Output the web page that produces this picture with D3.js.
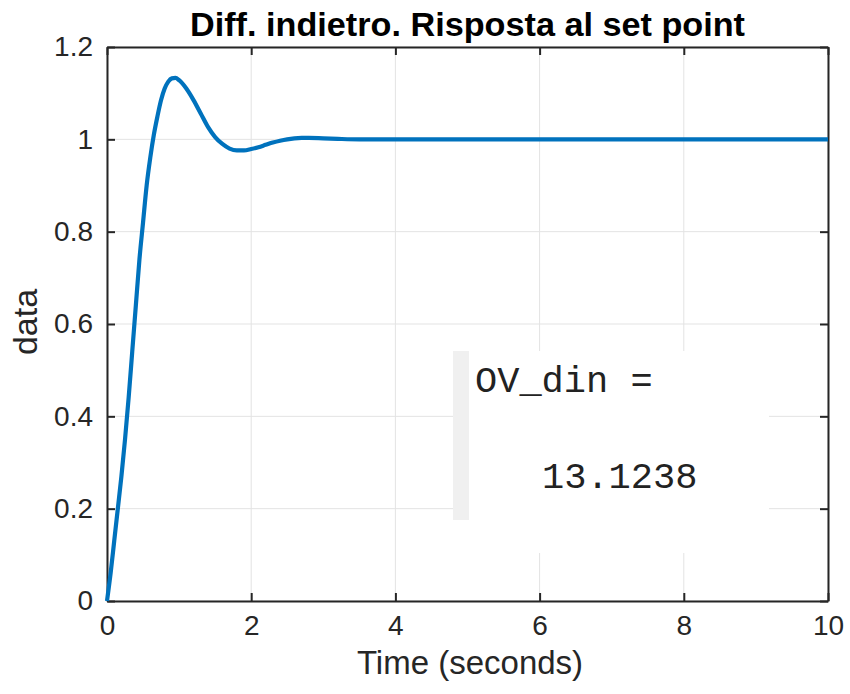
<!DOCTYPE html>
<html><head><meta charset="utf-8">
<script src="https://cdn.jsdelivr.net/npm/d3@7"></script>
<style>body{margin:0;background:#fff;}svg{display:block;}</style>
</head><body>
<script>
const titleText = "Diff. indietro. Risposta al set point";
const xLabel = "Time (seconds)";
const yLabel = "data";
const xTicks = [0, 2, 4, 6, 8, 10];
const yTicks = [0, 0.2, 0.4, 0.6, 0.8, 1, 1.2];
const timeS = [0,0.05,0.1,0.15,0.2,0.25,0.3,0.35,0.4,0.45,0.5,0.55,0.6,0.65,0.7,0.75,0.8,0.85,0.9,0.95,
  1.0,1.1,1.2,1.3,1.4,1.5,1.6,1.7,1.8,1.9,2.0,2.1,2.2,2.3,2.4,2.5,2.6,2.7,2.8,3.0,3.2,3.5,4,5,6,7,8,9,10];
const response = [0,0.06,0.13,0.20,0.27,0.35,0.44,0.54,0.64,0.74,0.82,0.90,0.96,1.01,1.05,1.085,1.11,1.125,1.132,1.133,
  1.128,1.110,1.085,1.056,1.027,1.005,0.990,0.980,0.976,0.976,0.979,0.983,0.988,0.993,0.997,1.000,1.002,1.003,1.003,1.002,1.001,1.000,1.000,1.000,1.000,1.000,1.000,1.000,1.000];
const noteLines = ["OV_din =", "13.1238"];

const W = 850, H = 694;
const svg = d3.select("body").append("svg").attr("width", W).attr("height", H);
const x = d3.scaleLinear().domain([0, 10]).range([107, 828]);
const y = d3.scaleLinear().domain([0, 1.2]).range([601, 47]);
const axisCol = "#262626";
const tickFont = "'Liberation Sans', Arial, Helvetica, sans-serif";

// grid
const g = svg.append("g");
g.selectAll(".gx").data(xTicks).enter().append("line")
  .attr("x1", d => x(d)).attr("x2", d => x(d)).attr("y1", y(0)).attr("y2", y(1.2))
  .attr("stroke", "#e3e3e3").attr("stroke-width", 1);
g.selectAll(".gy").data(yTicks).enter().append("line")
  .attr("y1", d => y(d)).attr("y2", d => y(d)).attr("x1", x(0)).attr("x2", x(10))
  .attr("stroke", "#e3e3e3").attr("stroke-width", 1);

// pasted note box
svg.append("rect").attr("x", 453).attr("y", 351).attr("width", 316).attr("height", 202).attr("fill", "#fff");
svg.append("rect").attr("x", 453).attr("y", 351).attr("width", 16).attr("height", 169).attr("fill", "#f0f0f0");
svg.append("text").attr("x", 475).attr("y", 392).text(noteLines[0])
  .attr("font-family", "'Courier New', 'Liberation Mono', monospace").attr("font-size", 37).attr("fill", "#222");
svg.append("text").attr("x", 542).attr("y", 488).text(noteLines[1])
  .attr("font-family", "'Courier New', 'Liberation Mono', monospace").attr("font-size", 37).attr("fill", "#222");

// axes
const tl = 8;
const axB = d3.axisBottom(x).tickValues(xTicks).tickSizeInner(-tl).tickSizeOuter(0).tickPadding(14).tickFormat(d3.format("d"));
const axT = d3.axisTop(x).tickValues(xTicks).tickSizeInner(-tl).tickSizeOuter(0).tickFormat("");
const axL = d3.axisLeft(y).tickValues(yTicks).tickSizeInner(-tl).tickSizeOuter(0).tickPadding(14).tickFormat(d => d3.format("~g")(d));
const axR = d3.axisRight(y).tickValues(yTicks).tickSizeInner(-tl).tickSizeOuter(0).tickFormat("");
function style(sel){
  sel.select(".domain").attr("stroke", axisCol).attr("stroke-width", 2);
  sel.selectAll(".tick line").attr("stroke", axisCol).attr("stroke-width", 2);
  sel.selectAll("text").attr("fill", axisCol).attr("font-size", 28).attr("font-family", tickFont);
}
svg.append("g").attr("transform", `translate(0,${y(0)})`).call(axB).call(style);
svg.append("g").attr("transform", `translate(0,${y(1.2)})`).call(axT).call(style);
svg.append("g").attr("transform", `translate(${x(0)},0)`).call(axL).call(style);
svg.append("g").attr("transform", `translate(${x(10)},0)`).call(axR).call(style);

// line
const line = d3.line().x((d, i) => x(timeS[i])).y(d => y(d)).curve(d3.curveMonotoneX);
svg.append("path").datum(response).attr("d", line).attr("fill", "none")
  .attr("stroke", "#0072BD").attr("stroke-width", 4.2).attr("stroke-linejoin", "round");

// labels
svg.append("text").attr("x", 467.5).attr("y", 36).attr("text-anchor", "middle")
  .attr("font-family", tickFont).attr("font-weight", "bold").attr("font-size", 34)
  .attr("textLength", 555).attr("lengthAdjust", "spacingAndGlyphs").attr("fill", "#000").text(titleText);
svg.append("text").attr("x", 470).attr("y", 674).attr("text-anchor", "middle")
  .attr("font-family", tickFont).attr("font-size", 33).attr("fill", axisCol).text(xLabel);
svg.append("text").attr("transform", "translate(37,322) rotate(-90)").attr("text-anchor", "middle")
  .attr("font-family", tickFont).attr("font-size", 34).attr("fill", axisCol).text(yLabel);
</script>
</body></html>
